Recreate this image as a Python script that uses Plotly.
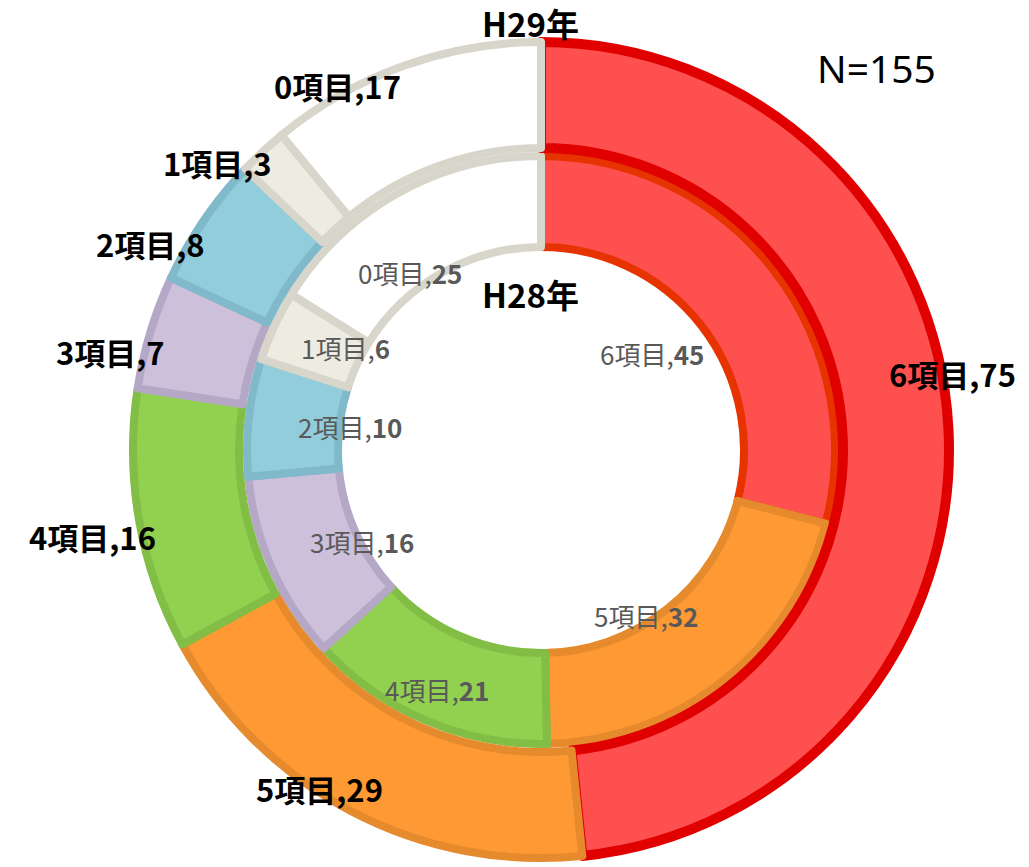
import math
import plotly.graph_objects as go

# ---- data ----
categories = ["6項目", "5項目", "4項目", "3項目", "2項目", "1項目", "0項目"]
h29_values = [75, 29, 16, 7, 8, 3, 17]   # outer ring (H29年)
h28_values = [45, 32, 21, 16, 10, 6, 25]  # inner ring (H28年)
n_total = 155

# ---- style ----
W, H = 1029, 867
CX, CY = 541, 450            # pixel centre (from top-left)
R_OUT, HOLE_OUT_R = 408, 302
R_IN, HOLE_IN_R = 294, 203

fills = ["#FF5050", "#FF9933", "#92D050", "#CCC0DA", "#92CDDC", "#EEECE1", "#FFFFFF"]
lines_out = ["#E00000", "#E68A2E", "#82BE46", "#B4A8C6", "#80B9C9", "#D8D5CB", "#D8D5CB"]
lines_in = ["#E63300", "#E68A2E", "#82BE46", "#B4A8C6", "#80B9C9", "#D8D5CB", "#D8D5CB"]
widths_out = [10, 8, 8, 8, 8, 8, 8]
widths_in = [8, 8, 8, 8, 8, 8, 8]

# label placement (radius in px, angle tweak in degrees) per slice
out_lab_r = [419, 404, 457, 442, 442, 433, 417]
out_lab_da = [-7.6, 5.3, -1.1, -3.9, -6.4, -5.4, -9.4]
in_lab_r = [147, 196, 261, 201, 192, 221, 221]
in_lab_da = [-3.5, 6.0, 0.3, -3.2, 0.5, 2.7, -7.4]

CJK = "Noto Sans CJK JP"


def domain(r):
    cy_b = H - CY
    return dict(x=[(CX - r) / W, (CX + r) / W], y=[(cy_b - r) / H, (cy_b + r) / H])


fig = go.Figure()

fig.add_trace(go.Pie(
    labels=categories, values=h28_values, sort=False, direction="clockwise",
    rotation=0, hole=HOLE_IN_R / R_IN, domain=domain(R_IN),
    marker=dict(colors=fills, line=dict(color=lines_in, width=widths_in)),
    textinfo="none", hoverinfo="skip", showlegend=False,
))
fig.add_trace(go.Pie(
    labels=categories, values=h29_values, sort=False, direction="clockwise",
    rotation=0, hole=HOLE_OUT_R / R_OUT, domain=domain(R_OUT),
    marker=dict(colors=fills, line=dict(color=lines_out, width=widths_out)),
    textinfo="none", hoverinfo="skip", showlegend=False,
))


def mids(values):
    tot = sum(values)
    out, acc = [], 0
    for v in values:
        out.append((acc + v / 2) / tot * 360)
        acc += v
    return out


def place(angle_deg, r):
    a = math.radians(angle_deg)
    x = CX + r * math.sin(a)
    y = CY - r * math.cos(a)
    return x / W, 1 - y / H


def px_xy(px, py):
    return px / W, 1 - py / H


annotations = []

for cat, v, m, r, da in zip(categories, h29_values, mids(h29_values), out_lab_r, out_lab_da):
    x, y = place(m + da, r)
    annotations.append(dict(
        x=x, y=y, xref="paper", yref="paper", xanchor="center", yanchor="middle",
        text=f"<b>{cat},{v}</b>", showarrow=False,
        font=dict(family=CJK, size=31, color="#000000")))

for cat, v, m, r, da in zip(categories, h28_values, mids(h28_values), in_lab_r, in_lab_da):
    x, y = place(m + da, r)
    annotations.append(dict(
        x=x, y=y, xref="paper", yref="paper", xanchor="center", yanchor="middle",
        text=f"{cat},<b>{v}</b>", showarrow=False,
        font=dict(family=CJK, size=26, color="#595959")))

x, y = px_xy(530, 23)
annotations.append(dict(x=x, y=y, xref="paper", yref="paper",
                        xanchor="center", yanchor="middle", showarrow=False,
                        text="<b>H29年</b>", font=dict(family=CJK, size=33, color="#000000")))
x, y = px_xy(530, 294)
annotations.append(dict(x=x, y=y, xref="paper", yref="paper",
                        xanchor="center", yanchor="middle", showarrow=False,
                        text="<b>H28年</b>", font=dict(family=CJK, size=33, color="#000000")))
x, y = px_xy(876, 67)
annotations.append(dict(x=x, y=y, xref="paper", yref="paper",
                        xanchor="center", yanchor="middle", showarrow=False,
                        text=f"N={n_total}", font=dict(family="Noto Sans", size=39, color="#000000")))

fig.update_layout(
    width=W, height=H, margin=dict(l=0, r=0, t=0, b=0),
    paper_bgcolor="#FFFFFF", plot_bgcolor="#FFFFFF",
    annotations=annotations, showlegend=False,
)

fig.write_html("out.html", config={"displayModeBar": False},
               post_script="document.body.style.margin='0px';document.body.style.overflow='hidden';")
